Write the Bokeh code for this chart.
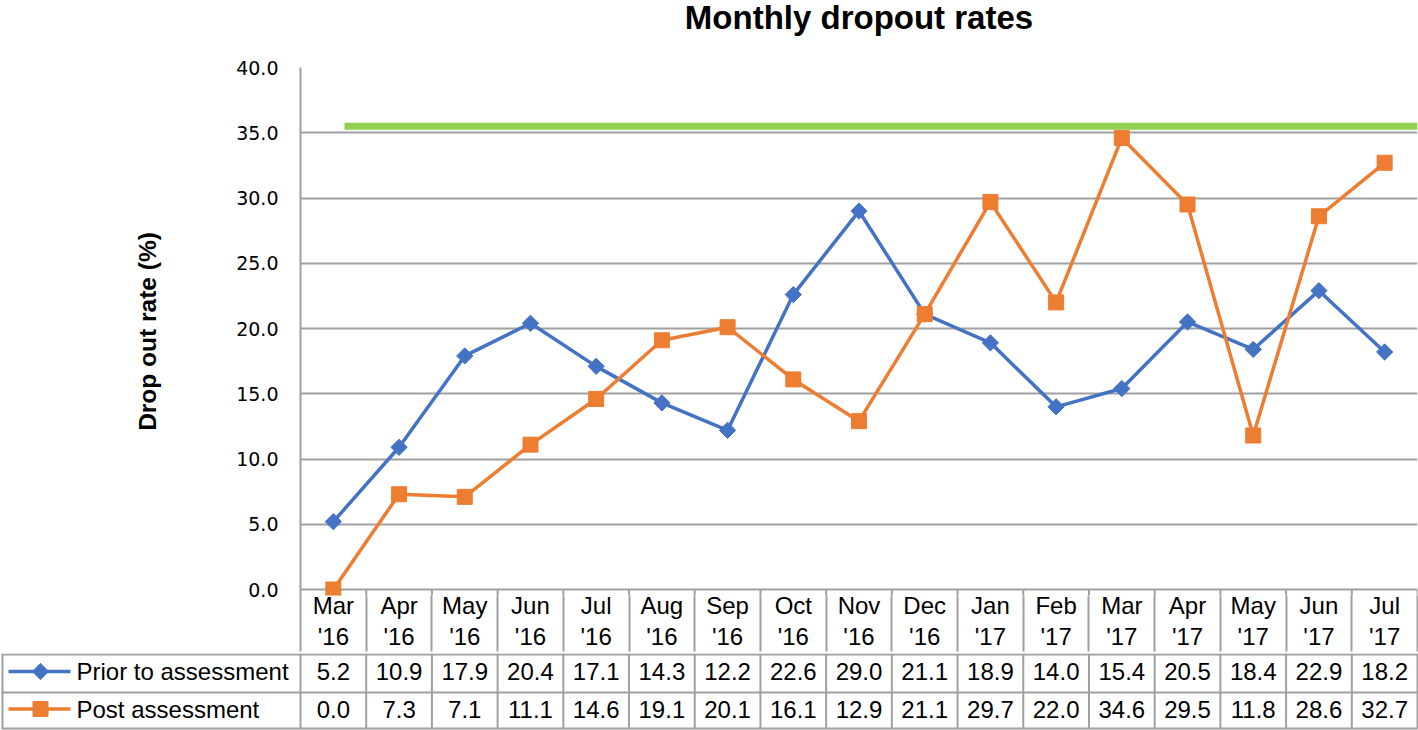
import numpy as np
from bokeh.plotting import figure
from bokeh.layouts import column
from bokeh.models import Range1d, FixedTicker, NumeralTickFormatter, LinearAxis
from bokeh.core.properties import value
from bokeh.embed import file_html
from bokeh.resources import INLINE

# ---------------- data ----------------
categories = ["Mar '16", "Apr '16", "May '16", "Jun '16", "Jul '16", "Aug '16",
              "Sep '16", "Oct '16", "Nov '16", "Dec '16", "Jan '17", "Feb '17",
              "Mar '17", "Apr '17", "May '17", "Jun '17", "Jul '17"]
prior = [5.2, 10.9, 17.9, 20.4, 17.1, 14.3, 12.2, 22.6, 29.0, 21.1,
         18.9, 14.0, 15.4, 20.5, 18.4, 22.9, 18.2]
post = [0.0, 7.3, 7.1, 11.1, 14.6, 19.1, 20.1, 16.1, 12.9, 21.1,
        29.7, 22.0, 34.6, 29.5, 11.8, 28.6, 32.7]
series_names = ["Prior to assessment", "Post assessment"]
chart_title = "Monthly dropout rates"
y_title = "Drop out rate (%)"
target_level = 35.5
target_start = 0.67          # position on the category axis where the target bar begins
y_ticks = [0, 5, 10, 15, 20, 25, 30, 35, 40]

# ---------------- style / layout ----------------
BLUE = "#4472C4"
ORANGE = "#ED7D31"
GREEN = "#92D050"
GRID = "#a0a0a0"
FONT = "Liberation Sans"
FS = "24px"
LW = 3.5

W, H = 1418, 730
HT = 36                       # title strip height
FL, FR = 300, 1               # left / right border of plot frame
TOP = 67                      # page y of value 40
Y0 = 591                      # page y of value 0
PAD = 6                       # frame extends a little below 0 so markers show
ROW1 = 653                    # page y of line under category labels
H1 = ROW1 - HT
H2 = H - ROW1
n = len(categories)
ppu = (Y0 - TOP) / 40.0
y_start = -PAD / ppu
FW = W - FL - FR
ppc = FW / n
xs = [i + 0.5 for i in range(n)]
x_lo = -FL / ppc
x_hi = n + FR / ppc
DIV = ROW1 - (Y0 + PAD)       # length of the category dividers below the frame

# ---------------- title strip ----------------
tt = figure(width=W, height=HT, x_range=Range1d(x_lo, x_hi), y_range=Range1d(HT, 0),
            x_axis_type=None, y_axis_type=None, toolbar_location=None,
            output_backend="svg", min_border=0, min_border_left=0, min_border_right=0,
            min_border_top=0, min_border_bottom=0)
tt.outline_line_color = None
tt.text([n / 2], [16.7], text=[chart_title], text_font=value(FONT), text_font_style="bold",
        text_font_size="33px", text_align="center", text_baseline="middle",
        text_color="black")

# ---------------- main chart ----------------
p = figure(width=W, height=H1, x_range=Range1d(0, n), y_range=Range1d(y_start, 40),
           x_axis_type=None, toolbar_location=None, output_backend="svg",
           min_border_left=FL, min_border_right=FR, min_border_top=TOP - HT,
           min_border_bottom=DIV)
p.outline_line_color = None

p.yaxis.ticker = FixedTicker(ticks=y_ticks)
p.yaxis.formatter = NumeralTickFormatter(format="0.0")
p.yaxis.major_tick_out = 0
p.yaxis.major_tick_in = 0
p.yaxis.minor_tick_out = 0
p.yaxis.minor_tick_in = 0
p.yaxis.major_label_standoff = 22
p.yaxis.major_label_text_font = "DejaVu Sans"
p.yaxis.major_label_text_font_size = "19px"
p.yaxis.major_label_text_color = "black"
p.yaxis.axis_line_color = GRID
p.yaxis.axis_line_width = 2
p.yaxis.axis_label = y_title
p.yaxis.axis_label_text_font = FONT
p.yaxis.axis_label_text_font_style = "bold"
p.yaxis.axis_label_text_font_size = "24.5px"
p.yaxis.axis_label_text_color = "black"
p.yaxis.axis_label_standoff = 72
p.ygrid.grid_line_color = GRID
p.ygrid.grid_line_width = 2

# category axis: labels at centres, long minor ticks form the table dividers
xaxis = LinearAxis(ticker=FixedTicker(ticks=xs, minor_ticks=list(range(0, n + 1))),
                   major_label_overrides={x: c.replace(" ", "\n") for x, c in zip(xs, categories)})
xaxis.axis_line_color = None
xaxis.major_tick_out = 0
xaxis.major_tick_in = 0
xaxis.minor_tick_in = 0
xaxis.minor_tick_out = DIV
xaxis.minor_tick_line_color = GRID
xaxis.minor_tick_line_width = 2
xaxis.major_label_standoff = -4 - DIV
xaxis.major_label_text_font = FONT
xaxis.major_label_text_font_size = FS
xaxis.major_label_text_color = "black"
xaxis.major_label_text_line_height = 1.17
p.add_layout(xaxis, "below")

# category dividers in the small strip below y=0
p.segment(x0=list(range(1, n + 1)), y0=[y_start] * n, x1=list(range(1, n + 1)), y1=[0] * n,
          line_color=GRID, line_width=2)

# target bar
p.segment(x0=[target_start], y0=[target_level], x1=[n], y1=[target_level],
          line_color=GREEN, line_width=7)

p.line(xs, prior, line_color=BLUE, line_width=LW)
p.scatter(xs, prior, marker="square", angle=np.pi / 4, size=11.5,
          fill_color=BLUE, line_color=BLUE)
p.line(xs, post, line_color=ORANGE, line_width=LW)
p.scatter(xs, post, marker="square", size=15, fill_color=ORANGE, line_color=ORANGE)

# ---------------- data table rows ----------------
t = figure(width=W, height=H2, x_range=Range1d(x_lo, x_hi), y_range=Range1d(H2, 0),
           x_axis_type=None, y_axis_type=None, toolbar_location=None,
           output_backend="svg", min_border=0,
           min_border_left=0, min_border_right=0, min_border_top=0, min_border_bottom=0)
t.outline_line_color = None

for fig in (tt, p, t):
    fig.frame_align = False


def px(xpix):
    return x_lo + xpix / ppc


r1, r2, r3 = 1, 692 - ROW1, 728 - ROW1
row_c = [671 - ROW1, 708.5 - ROW1]

# vertical lines
t.segment(x0=list(range(0, n + 1)), y0=[0] * (n + 1), x1=list(range(0, n + 1)),
          y1=[r3] * (n + 1), line_color=GRID, line_width=2)
t.segment(x0=[px(2)], y0=[r1], x1=[px(2)], y1=[r3], line_color=GRID, line_width=2)
# horizontal lines
t.segment(x0=[px(1)] * 3, y0=[r1, r2, r3], x1=[n] * 3, y1=[r1, r2, r3],
          line_color=GRID, line_width=2)

tfont = value(FONT)
for yy, labels in [(row_c[0], [f"{v:.1f}" for v in prior]),
                   (row_c[1], [f"{v:.1f}" for v in post])]:
    t.text(xs, [yy] * n, text=labels, text_font=tfont, text_font_size=FS,
           text_align="center", text_baseline="middle", text_color="black")

# legend keys
for rc, col, sz, ang, name in [(row_c[0], BLUE, 11.5, np.pi / 4, series_names[0]),
                               (row_c[1], ORANGE, 15, 0, series_names[1])]:
    t.line([px(8), px(70)], [rc, rc], line_color=col, line_width=LW)
    t.scatter([px(40)], [rc], marker="square", size=sz, angle=ang, fill_color=col, line_color=col)
    t.text([px(76)], [rc], text=[name], text_font=tfont, text_font_size=FS,
           text_align="left", text_baseline="middle", text_color="black")

layout = column(tt, p, t, spacing=0)
open("out.html", "w").write(file_html(layout, INLINE))
